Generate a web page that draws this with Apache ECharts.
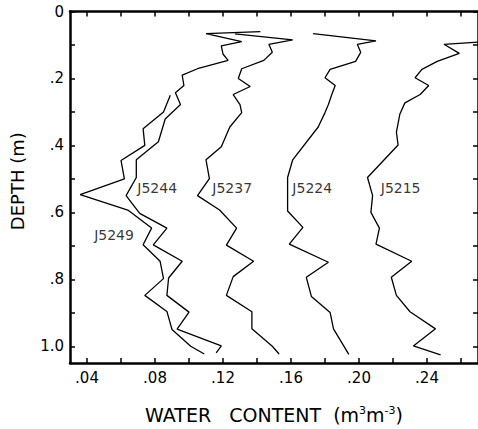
<!DOCTYPE html>
<html>
<head>
<meta charset="utf-8">
<script src="https://cdn.jsdelivr.net/npm/echarts@6/dist/echarts.min.js"></script>
<style>
  html, body { margin: 0; padding: 0; background: #fff; }
  #chart { width: 478px; height: 429px; }
</style>
</head>
<body>
<div id="chart"></div>
<script>
// soil water content profiles, depth in m, water content in m3/m3
const j5249Depth = [0.25, 0.30, 0.35, 0.40, 0.445, 0.50, 0.547, 0.593, 0.647, 0.697, 0.746, 0.798, 0.848, 0.896, 0.95, 1.0, 1.023]
const j5249Water = [0.089, 0.085, 0.073, 0.074, 0.060, 0.062, 0.036, 0.064, 0.078, 0.073, 0.083, 0.085, 0.074, 0.087, 0.090, 0.101, 0.109]

const j5244Depth = [0.060, 0.066, 0.090, 0.103, 0.127, 0.146, 0.171, 0.190, 0.221, 0.243, 0.278, 0.321, 0.389, 0.443, 0.496, 0.550, 0.603, 0.647, 0.697, 0.746, 0.796, 0.848, 0.898, 0.949, 0.999, 1.020]
const j5244Water = [0.142, 0.110, 0.131, 0.119, 0.120, 0.123, 0.105, 0.096, 0.097, 0.092, 0.095, 0.086, 0.082, 0.069, 0.069, 0.063, 0.071, 0.087, 0.079, 0.096, 0.088, 0.087, 0.100, 0.093, 0.119, 0.116]

const j5237Depth = [0.067, 0.085, 0.098, 0.122, 0.146, 0.171, 0.200, 0.224, 0.248, 0.278, 0.302, 0.345, 0.404, 0.443, 0.499, 0.550, 0.593, 0.647, 0.698, 0.746, 0.792, 0.848, 0.897, 0.948, 1.000, 1.023]
const j5237Water = [0.127, 0.161, 0.147, 0.149, 0.144, 0.131, 0.129, 0.136, 0.126, 0.130, 0.131, 0.124, 0.119, 0.110, 0.112, 0.105, 0.118, 0.128, 0.122, 0.138, 0.126, 0.122, 0.137, 0.137, 0.149, 0.153]

const j5224Depth = [0.066, 0.088, 0.098, 0.122, 0.149, 0.173, 0.198, 0.221, 0.248, 0.278, 0.302, 0.345, 0.443, 0.496, 0.550, 0.596, 0.645, 0.695, 0.749, 0.794, 0.851, 0.899, 0.948, 1.024]
const j5224Water = [0.173, 0.210, 0.199, 0.201, 0.198, 0.183, 0.180, 0.186, 0.184, 0.182, 0.180, 0.176, 0.161, 0.158, 0.158, 0.158, 0.167, 0.159, 0.182, 0.169, 0.172, 0.183, 0.185, 0.194]

const j5215Depth = [0.090, 0.098, 0.125, 0.149, 0.173, 0.198, 0.221, 0.248, 0.273, 0.307, 0.360, 0.399, 0.496, 0.550, 0.600, 0.647, 0.695, 0.746, 0.794, 0.848, 0.897, 0.948, 0.999, 1.026]
const j5215Water = [0.275, 0.250, 0.259, 0.246, 0.237, 0.233, 0.241, 0.236, 0.227, 0.224, 0.222, 0.223, 0.205, 0.208, 0.207, 0.212, 0.210, 0.231, 0.219, 0.222, 0.230, 0.245, 0.232, 0.248]

// curve labels (left edge of text)
const curveNames = ['J5249', 'J5244', 'J5237', 'J5224', 'J5215']
const labelWater = [0.0442, 0.0696, 0.1137, 0.1608, 0.2128]
const labelDepth = [0.669, 0.528, 0.528, 0.528, 0.528]

// axis ticks
const xTicks = [0.04, 0.06, 0.08, 0.10, 0.12, 0.14, 0.16, 0.18, 0.20, 0.22, 0.24, 0.26]
const xLabels = [0.04, 0.08, 0.12, 0.16, 0.20, 0.24]
const yTicks = [0, 0.1, 0.2, 0.3, 0.4, 0.5, 0.6, 0.7, 0.8, 0.9, 1.0]
const yLabels = [0, 0.2, 0.4, 0.6, 0.8, 1.0]

const FONT = 'DejaVu Sans'
const INK = '#000'

const profiles = [
  [j5249Water, j5249Depth],
  [j5244Water, j5244Depth],
  [j5237Water, j5237Depth],
  [j5224Water, j5224Depth],
  [j5215Water, j5215Depth],
]

const chart = echarts.init(document.getElementById('chart'), null, {
  renderer: 'svg',
  width: 478,
  height: 429,
})

const tickStyle = { show: true, inside: true, length: 5, lineStyle: { color: INK, width: 1.5 } }
const lineStyle = { color: INK, width: 2.5 }

const option = {
  backgroundColor: '#fff',
  animation: false,
  grid: { left: 63, top: 11.5, width: 416, height: 361 },
  xAxis: [
    {
      type: 'value',
      position: 'bottom',
      min: 0.03,
      max: 0.27,
      axisLine: { show: true, onZero: false, lineStyle },
      axisTick: { ...tickStyle, customValues: xTicks },
      splitLine: { show: false },
      axisLabel: {
        customValues: xLabels,
        margin: 7,
        fontFamily: FONT,
        fontSize: 15,
        color: INK,
        formatter: (v) => v.toFixed(2).replace(/^0/, ''),
      },
      name: 'WATER   CONTENT  (m{s|3}m{s|-3})',
      nameLocation: 'middle',
      nameGap: 42,
      nameTextStyle: {
        fontFamily: FONT,
        fontSize: 19,
        color: INK,
        rich: { s: { fontFamily: FONT, fontSize: 11, verticalAlign: 'top', color: INK } },
      },
    },
    {
      type: 'value',
      position: 'top',
      min: 0.03,
      max: 0.27,
      axisLine: { show: true, onZero: false, lineStyle },
      axisTick: { ...tickStyle, customValues: xTicks },
      axisLabel: { show: false },
      splitLine: { show: false },
    },
  ],
  yAxis: [
    {
      type: 'value',
      position: 'left',
      inverse: true,
      min: 0,
      max: 1.05,
      axisLine: { show: true, onZero: false, lineStyle },
      axisTick: { ...tickStyle, customValues: yTicks },
      splitLine: { show: false },
      axisLabel: {
        customValues: yLabels,
        margin: 6,
        fontFamily: FONT,
        fontSize: 15,
        color: INK,
        formatter: (v) => (v === 0 ? '0' : v === 1 ? '1.0' : String(v).replace(/^0/, '')),
      },
      name: 'DEPTH (m)',
      nameLocation: 'middle',
      nameGap: 44,
      nameTextStyle: { fontFamily: FONT, fontSize: 18, color: INK, padding: [0, 0, 0, 12] },
    },
    {
      type: 'value',
      position: 'right',
      inverse: true,
      min: 0,
      max: 1.05,
      axisLine: { show: true, onZero: false, lineStyle },
      axisTick: { ...tickStyle, customValues: yTicks },
      axisLabel: { show: false },
      splitLine: { show: false },
    },
  ],
  series: [
    ...profiles.map(([water, depth], i) => ({
      name: curveNames[i],
      type: 'line',
      xAxisIndex: 0,
      yAxisIndex: 0,
      showSymbol: false,
      symbol: 'none',
      clip: true,
      lineStyle: { color: INK, width: 1.3 },
      data: water.map((w, k) => [w, depth[k]]),
    })),
    {
      type: 'scatter',
      xAxisIndex: 0,
      yAxisIndex: 0,
      symbolSize: 0,
      silent: true,
      label: {
        show: true,
        position: 'right',
        distance: 0,
        fontFamily: FONT,
        fontSize: 14,
        color: INK,
        formatter: (p) => p.name,
      },
      labelLayout: { hideOverlap: false },
      data: curveNames.map((n, i) => ({ name: n, value: [labelWater[i], labelDepth[i]] })),
    },
  ],
}

chart.setOption(option)
</script>
</body>
</html>
